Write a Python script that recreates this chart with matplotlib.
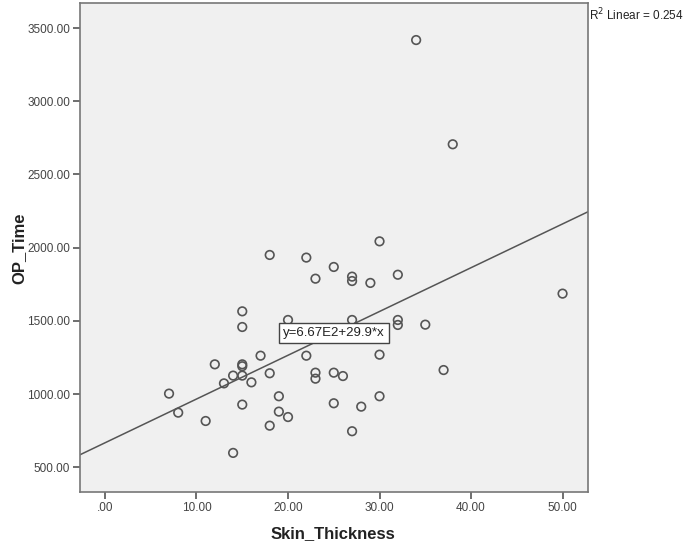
import numpy as np
import matplotlib
matplotlib.use("Agg")
import matplotlib.pyplot as plt
from matplotlib.ticker import FuncFormatter

plt.rcParams['font.family'] = ['Liberation Sans', 'DejaVu Sans']

# Data
skin_thickness = [34, 38, 30, 18, 22, 25, 23, 27, 27, 29, 32, 50,
                  15, 15, 20, 27, 32, 32, 35, 17, 22, 30, 12, 15,
                  15, 14, 15, 13, 16, 18, 23, 23, 25, 26, 37, 7,
                  8, 11, 15, 19, 19, 20, 18, 14, 25, 28, 30, 27]
op_time = [3418, 2706, 2043, 1950, 1932, 1868, 1788, 1802, 1772, 1759, 1815, 1686,
           1565, 1458, 1506, 1506, 1506, 1472, 1474, 1262, 1262, 1269, 1203, 1203,
           1190, 1126, 1126, 1073, 1080, 1142, 1146, 1105, 1146, 1123, 1164, 1003,
           873, 816, 928, 985, 880, 843, 784, 598, 937, 914, 985, 746]

# Fit line as reported in the chart
intercept = 667.0
slope = 29.9
r2 = 0.254
x_ticks = [0, 10, 20, 30, 40, 50]
y_ticks = [500, 1000, 1500, 2000, 2500, 3000, 3500]

fig = plt.figure(figsize=(6.85, 5.45), dpi=100)
ax = fig.add_axes([80 / 685, 1 - 492 / 545, 508 / 685, 489 / 545])
ax.set_facecolor('#f0f0f0')

xlim = (-2.73, 52.78)
ylim = (331, 3671)

ax.scatter(skin_thickness, op_time, s=38, facecolors='none',
           edgecolors='#555555', linewidths=1.2, zorder=3)

xs = np.array(xlim)
ax.plot(xs, intercept + slope * xs, color='#555555', lw=1.1, zorder=2)

lx = 25
ax.text(lx, intercept + slope * lx, 'y=6.67E2+29.9*x', ha='center', va='center',
        fontsize=9.5, color='#222222', zorder=4,
        bbox=dict(boxstyle='square,pad=0.3', facecolor='white',
                  edgecolor='#444444', linewidth=1.0))

ax.set_xlim(xlim)
ax.set_ylim(ylim)
ax.set_xticks(x_ticks)
ax.set_yticks(y_ticks)

def fmt(v, pos):
    s = f'{v:.2f}'
    return s[1:] if s.startswith('0') else s

ax.xaxis.set_major_formatter(FuncFormatter(fmt))
ax.yaxis.set_major_formatter(FuncFormatter(fmt))
ax.tick_params(direction='out', length=5, width=1.2, color='#555555',
               labelsize=8.5, labelcolor='#444444', pad=2)
for sp in ax.spines.values():
    sp.set_color('#777777')
    sp.set_linewidth(1.2)

fig.text(333 / 685, 1 - 534 / 545, 'Skin_Thickness', ha='center', va='center',
         fontsize=12, fontweight='bold', color='#222222')
fig.text(19 / 685, 1 - 248 / 545, 'OP_Time', ha='center', va='center',
         rotation=90, fontsize=12, fontweight='bold', color='#222222')
fig.text(589 / 685, 1 - 15 / 545, f'R$^2$ Linear = {r2:.3f}', ha='left',
         va='center', fontsize=8.5, color='#222222')

fig.savefig('out.png', dpi=100, facecolor='white')
